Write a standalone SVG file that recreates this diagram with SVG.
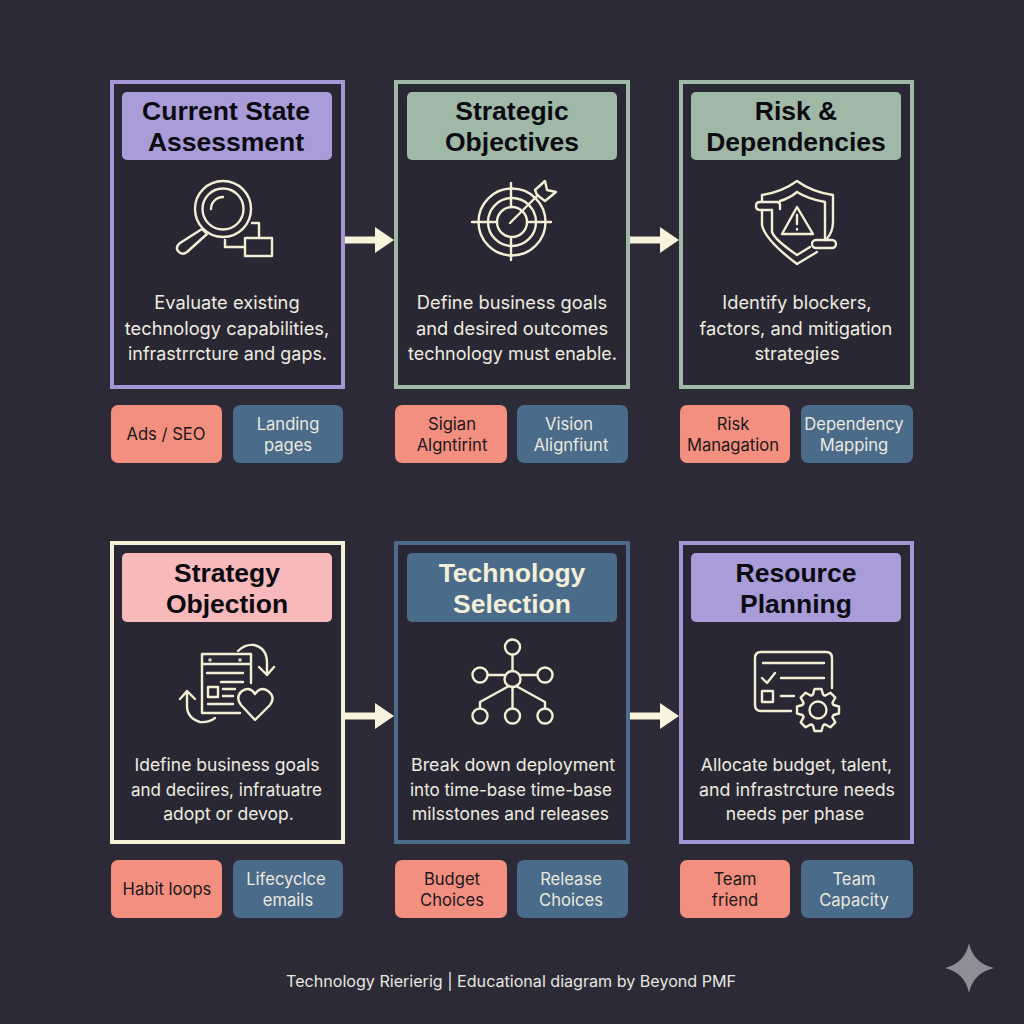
<svg xmlns="http://www.w3.org/2000/svg" width="1024" height="1024" viewBox="0 0 1024 1024">
<style>
.card{fill:#292733;stroke-width:4}
.ttl{font:700 26.5px "Liberation Sans",Arial,sans-serif;text-anchor:middle;fill:#0c0b12}
.ttl.lt{fill:#f3efd9}
.body{font:400 18.3px Inter,"Liberation Sans",sans-serif;text-anchor:middle;fill:#efece0}
.body.r2{font-size:17.5px}
.chip{font:400 16.6px Inter,"Liberation Sans",sans-serif;text-anchor:middle}
.cs{fill:#f28f7e}.cb{fill:#4a6b8a}
.ts{fill:#1a1820}.tb{fill:#ece9de}
.ic{fill:none;stroke:#f3efd5;stroke-width:2.4;stroke-linecap:round;stroke-linejoin:round}
.foot{font:400 16px Inter,"Liberation Sans",sans-serif;fill:#e8e6e0}
.ar{fill:#f7f3dc}
</style>
<defs>
<path id="tooth" d="M-6.1,-14.8 L-5,-15.5 L-3.5,-21 H3.5 L5,-15.5 L6.1,-14.8"/>
<path id="arr" d="M0,-3.5 H31 V-13 L50,0 L31,13 V3.5 H0 Z"/>
</defs>
<rect width="1024" height="1024" fill="#2c2a36"/>

<g id="connectors">
<use href="#arr" class="ar" x="344" y="240"/>
<use href="#arr" class="ar" x="629" y="240"/>
<use href="#arr" class="ar" x="344" y="716"/>
<use href="#arr" class="ar" x="629" y="716"/>
</g>

<g id="node-current-state">
<rect class="card" x="112" y="82" width="231" height="305" stroke="#a597d6"/>
<rect x="122" y="92" width="210" height="68" rx="5" fill="#a99cd8"/>
<text class="ttl" x="226" y="120">Current State</text>
<text class="ttl" x="226" y="151">Assessment</text>
<g class="ic">
<circle cx="223" cy="209" r="28"/><circle cx="223" cy="209" r="20.5"/>
<path d="M211,209 A12,12 0 0 1 223,197"/>
<path d="M202,229 L207,234 L187,252 Q182,256 178,251 Q175,247 180,243 Z"/>
<path d="M252,223 H259 V238 M225,240 V247 H245"/>
<rect x="245" y="238" width="27" height="18"/>
</g>
<text class="body" x="227" y="309">Evaluate existing</text>
<text class="body" x="227" y="335">technology capabilities,</text>
<text class="body" x="227.500" y="360" textLength="199" lengthAdjust="spacingAndGlyphs">infrastrrcture and gaps.</text>
<rect class="cs" x="111" y="405" width="111" height="58" rx="7"/>
<rect class="cb" x="233" y="405" width="110" height="58" rx="7"/>
<text class="chip ts" x="166" y="440">Ads / SEO</text>
<text class="chip tb" x="288" y="430">Landing</text>
<text class="chip tb" x="288" y="451">pages</text>
</g>

<g id="node-strategic-objectives">
<rect class="card" x="396" y="82" width="232" height="305" stroke="#a0b8a6"/>
<rect x="407" y="92" width="210" height="68" rx="5" fill="#a0b8a6"/>
<text class="ttl" x="512" y="120">Strategic</text>
<text class="ttl" x="512" y="151">Objectives</text>
<g class="ic">
<circle cx="512" cy="222" r="33.5"/><circle cx="512" cy="222" r="24"/><circle cx="512" cy="222" r="15"/>
<path d="M472,222 H497 M527,222 H551 M511,183 V207 M511,237 V260"/>
<path d="M510,223 L538,195"/>
<path d="M535,190 L545,181 L547,190 L556,192 L545,201 L537,195 Z"/>
</g>
<text class="body" x="512" y="309">Define business goals</text>
<text class="body" x="512" y="335">and desired outcomes</text>
<text class="body" x="512.500" y="360" textLength="209" lengthAdjust="spacingAndGlyphs">technology must enable.</text>
<rect class="cs" x="395" y="405" width="112" height="58" rx="7"/>
<rect class="cb" x="517" y="405" width="111" height="58" rx="7"/>
<text class="chip ts" x="452" y="430">Sigian</text>
<text class="chip ts" x="452" y="451">Algntirint</text>
<text class="chip tb" x="569" y="430">Vision</text>
<text class="chip tb" x="571" y="451">Alignfiunt</text>
</g>

<g id="node-risk">
<rect class="card" x="681" y="82" width="231" height="305" stroke="#a0b8a6"/>
<rect x="691" y="92" width="210" height="68" rx="5" fill="#a0b8a6"/>
<text class="ttl" x="796" y="120">Risk &amp;</text>
<text class="ttl" x="796" y="151">Dependencies</text>
<g class="ic">
<path d="M762,202 V195 Q782,192 797,181 Q812,192 833,195 V222 Q833,232 826,240"/>
<path d="M762,210 V225 Q765,240 797,264 L817,252"/>
<path d="M780,201 Q790,198 797,192 Q808,199 825,202 V240"/>
<path d="M772,210 V232 Q775,240 797,255 L810,247"/>
<path d="M780,209 V205 Q780,202 777,202 H760 Q756,202 756,206 Q756,210 760,210 H772"/>
<rect x="812" y="240" width="24" height="8" rx="4"/>
<path d="M797,207 L782,234 H813 Z"/>
<path d="M797,215 V224 M797,229 V229.500"/>
</g>
<text class="body" x="797" y="309">Identify blockers,</text>
<text class="body" x="796" y="335">factors, and mitigation</text>
<text class="body" x="797" y="360">strategies</text>
<rect class="cs" x="680" y="405" width="110" height="58" rx="7"/>
<rect class="cb" x="801" y="405" width="112" height="58" rx="7"/>
<text class="chip ts" x="733" y="430">Risk</text>
<text class="chip ts" x="733" y="451">Managation</text>
<text class="chip tb" x="854" y="430">Dependency</text>
<text class="chip tb" x="854" y="451">Mapping</text>
</g>

<g id="node-strategy-objection">
<rect class="card" x="112" y="543" width="231" height="299" stroke="#f5f0d8"/>
<rect x="122" y="553" width="210" height="69" rx="5" fill="#f7b9b9"/>
<text class="ttl" x="227" y="582">Strategy</text>
<text class="ttl" x="227" y="613">Objection</text>
<g class="ic">
<path d="M251,683 V654 H202 V713 H240"/>
<path d="M202,664 H251 M207,673 H243 M221,682 H243 M223,689 H235 M223,696 H233 M208,704 H233"/>
<circle cx="210" cy="660" r="0.6"/><circle cx="240" cy="660" r="0.6"/>
<rect x="208" y="687" width="10" height="10"/>
<path d="M255,720 L241,705 Q235,697 242,691 Q250,686 255,694 Q261,686 268,691 Q276,697 270,705 Z"/>
<path d="M238,651 Q245,644 254,645 Q267,648 267,663 V675 M259,667 L267,675 L274,667"/>
<path d="M215,718 Q208,723 200,722 Q187,718 187,706 V692 M180,699 L187,691 L195,699"/>
</g>
<text class="body r2" x="227" y="771">Idefine business goals</text>
<text class="body r2" x="226.500" y="796" textLength="191" lengthAdjust="spacingAndGlyphs">and deciires, infratuatre</text>
<text class="body r2" x="228.500" y="820">adopt or devop.</text>
<rect class="cs" x="111" y="860" width="111" height="58" rx="7"/>
<rect class="cb" x="233" y="860" width="110" height="58" rx="7"/>
<text class="chip ts" x="167" y="895">Habit loops</text>
<text class="chip tb" x="286" y="885">Lifecyclce</text>
<text class="chip tb" x="288" y="906">emails</text>
</g>

<g id="node-technology-selection">
<rect class="card" x="396" y="543" width="232" height="299" stroke="#4a6b8a"/>
<rect x="407" y="553" width="210" height="69" rx="5" fill="#4a6b8a"/>
<text class="ttl lt" x="512" y="582">Technology</text>
<text class="ttl lt" x="512" y="613">Selection</text>
<g class="ic">
<circle cx="512.500" cy="679" r="8"/>
<circle cx="512.500" cy="647" r="7.500"/><circle cx="480" cy="675" r="7.500"/><circle cx="545" cy="675" r="7.500"/>
<circle cx="480" cy="716" r="7.500"/><circle cx="512.500" cy="716" r="7.500"/><circle cx="545" cy="716" r="7.500"/>
<path d="M512.500,655 V671 M488,675 H504 M521,675 H537 M512.500,687 V708 M509,686 L480,702 V708 M516,686 L545,702 V708"/>
</g>
<text class="body r2" x="513" y="771" textLength="204" lengthAdjust="spacingAndGlyphs">Break down deployment</text>
<text class="body r2" x="511" y="796" textLength="202" lengthAdjust="spacingAndGlyphs">into time-base time-base</text>
<text class="body r2" x="510.500" y="820" textLength="197" lengthAdjust="spacingAndGlyphs">milsstones and releases</text>
<rect class="cs" x="395" y="860" width="112" height="58" rx="7"/>
<rect class="cb" x="517" y="860" width="111" height="58" rx="7"/>
<text class="chip ts" x="452" y="885">Budget</text>
<text class="chip ts" x="452" y="906">Choices</text>
<text class="chip tb" x="571" y="885">Release</text>
<text class="chip tb" x="571" y="906">Choices</text>
</g>

<g id="node-resource-planning">
<rect class="card" x="681" y="543" width="231" height="299" stroke="#a597d6"/>
<rect x="691" y="553" width="210" height="69" rx="5" fill="#a99cd8"/>
<text class="ttl" x="796" y="582">Resource</text>
<text class="ttl" x="796" y="613">Planning</text>
<g class="ic">
<path d="M832,688 V658 Q832,652 826,652 H761 Q755,652 755,658 V705 Q755,711 761,711 H791"/>
<path d="M763,663 H824 M781,678 H824 M781,696 H794 M762,678 L767,683 L775,673"/>
<rect x="762" y="691" width="11" height="11"/>
<circle cx="818" cy="710" r="8.500"/>
<g transform="translate(818 710)">
<use href="#tooth"/><use href="#tooth" transform="rotate(45)"/><use href="#tooth" transform="rotate(90)"/><use href="#tooth" transform="rotate(135)"/><use href="#tooth" transform="rotate(180)"/><use href="#tooth" transform="rotate(225)"/><use href="#tooth" transform="rotate(270)"/><use href="#tooth" transform="rotate(315)"/>
</g>
</g>
<text class="body r2" x="796.500" y="771">Allocate budget, talent,</text>
<text class="body r2" x="797" y="796" textLength="196" lengthAdjust="spacingAndGlyphs">and infrastrcture needs</text>
<text class="body r2" x="795" y="820">needs per phase</text>
<rect class="cs" x="680" y="860" width="110" height="58" rx="7"/>
<rect class="cb" x="801" y="860" width="112" height="58" rx="7"/>
<text class="chip ts" x="735" y="885">Team</text>
<text class="chip ts" x="735" y="906">friend</text>
<text class="chip tb" x="854" y="885">Team</text>
<text class="chip tb" x="854" y="906">Capacity</text>
</g>

<text class="foot" x="286" y="987" textLength="450" lengthAdjust="spacingAndGlyphs">Technology Rierierig | Educational diagram by Beyond PMF</text>
<path d="M969,943 Q973,963 994,968 Q973,973 969,993 Q965,973 945,968 Q965,963 969,943 Z" fill="#8f8e98"/>
</svg>
